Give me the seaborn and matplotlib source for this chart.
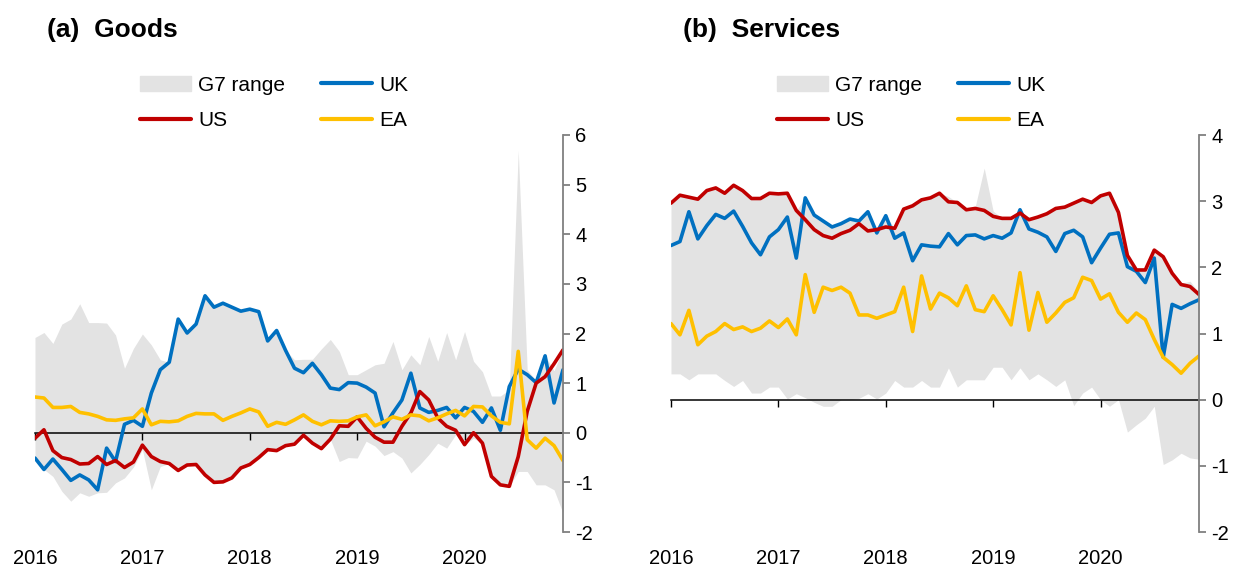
import matplotlib
matplotlib.use('Agg')
import matplotlib.pyplot as plt
import matplotlib.patches as mpatches
import matplotlib.lines as mlines
import numpy as np
import pandas as pd
import seaborn as sns

# monthly, Jan 2016 - Dec 2020
months = np.arange(60)
year_ticks = [0, 12, 24, 36, 48]
year_labels = ['2016', '2017', '2018', '2019', '2020']

# (a) goods
goods_uk = [-0.51, -0.74, -0.53, -0.74, -0.96, -0.85, -0.95, -1.15, -0.31, -0.58,
            0.17, 0.25, 0.13, 0.80, 1.27, 1.42, 2.29, 2.01, 2.19, 2.76,
            2.53, 2.61, 2.53, 2.45, 2.49, 2.44, 1.85, 2.06, 1.66, 1.30,
            1.21, 1.40, 1.17, 0.90, 0.87, 1.01, 1.00, 0.92, 0.80, 0.12,
            0.40, 0.66, 1.20, 0.50, 0.41, 0.45, 0.51, 0.30, 0.51, 0.43,
            0.21, 0.50, 0.05, 0.93, 1.28, 1.17, 1.01, 1.55, 0.60, 1.27]
goods_us = [-0.11, 0.06, -0.36, -0.50, -0.54, -0.63, -0.62, -0.48, -0.64, -0.56,
            -0.70, -0.59, -0.25, -0.48, -0.58, -0.62, -0.76, -0.65, -0.64, -0.85,
            -1.00, -0.99, -0.91, -0.71, -0.64, -0.50, -0.34, -0.36, -0.26, -0.23,
            -0.05, -0.21, -0.32, -0.13, 0.14, 0.13, 0.32, 0.09, -0.09, -0.19,
            -0.19, 0.13, 0.40, 0.83, 0.66, 0.30, 0.13, 0.05, -0.24, 0.00,
            -0.21, -0.88, -1.05, -1.08, -0.48, 0.43, 1.00, 1.13, 1.39, 1.67]
goods_ea = [0.72, 0.70, 0.51, 0.51, 0.53, 0.41, 0.38, 0.33, 0.26, 0.25,
            0.28, 0.30, 0.48, 0.16, 0.23, 0.22, 0.24, 0.33, 0.39, 0.38,
            0.38, 0.25, 0.33, 0.40, 0.48, 0.42, 0.13, 0.21, 0.17, 0.26,
            0.36, 0.23, 0.16, 0.24, 0.23, 0.24, 0.32, 0.36, 0.14, 0.22,
            0.32, 0.27, 0.36, 0.34, 0.24, 0.30, 0.38, 0.45, 0.34, 0.53,
            0.52, 0.34, 0.21, 0.18, 1.64, -0.14, -0.31, -0.11, -0.26, -0.56]
goods_hi = [1.92, 2.02, 1.80, 2.19, 2.29, 2.60, 2.22, 2.22, 2.21, 1.97,
            1.30, 1.70, 1.99, 1.77, 1.47, 1.42, 2.29, 2.01, 2.19, 2.76,
            2.53, 2.61, 2.53, 2.45, 2.49, 2.44, 1.85, 2.06, 1.66, 1.47,
            1.48, 1.48, 1.69, 1.88, 1.64, 1.17, 1.17, 1.27, 1.37, 1.40,
            1.84, 1.27, 1.57, 1.37, 1.94, 1.44, 2.02, 1.47, 2.04, 1.44,
            1.23, 0.74, 0.74, 0.87, 5.69, 1.27, 1.05, 1.55, 1.25, 1.68]
goods_lo = [-0.51, -0.74, -0.88, -1.18, -1.38, -1.21, -1.28, -1.21, -1.20, -1.01,
            -0.91, -0.69, -0.34, -1.15, -0.68, -0.62, -0.76, -0.65, -0.64, -0.85,
            -1.00, -0.99, -0.91, -0.71, -0.64, -0.50, -0.34, -0.36, -0.26, -0.23,
            -0.05, -0.21, -0.32, -0.13, -0.58, -0.50, -0.51, -0.17, -0.27, -0.46,
            -0.38, -0.51, -0.81, -0.64, -0.44, -0.21, -0.31, -0.04, -0.24, -0.11,
            -0.21, -0.88, -1.05, -1.08, -0.78, -0.78, -1.05, -1.05, -1.15, -1.62]

# (b) services
svc_uk = [2.33, 2.39, 2.84, 2.43, 2.63, 2.80, 2.74, 2.85, 2.62, 2.37,
          2.19, 2.46, 2.57, 2.76, 2.14, 3.05, 2.79, 2.70, 2.61, 2.66,
          2.73, 2.70, 2.84, 2.52, 2.78, 2.44, 2.52, 2.10, 2.34, 2.32,
          2.31, 2.51, 2.34, 2.48, 2.49, 2.43, 2.48, 2.44, 2.52, 2.87,
          2.58, 2.53, 2.46, 2.24, 2.51, 2.56, 2.46, 2.07, 2.29, 2.50,
          2.52, 2.01, 1.94, 1.77, 2.14, 0.64, 1.44, 1.38, 1.45, 1.51]
svc_us = [2.97, 3.09, 3.06, 3.03, 3.16, 3.20, 3.12, 3.24, 3.16, 3.04,
          3.04, 3.12, 3.11, 3.12, 2.86, 2.72, 2.57, 2.48, 2.44, 2.51,
          2.56, 2.66, 2.55, 2.57, 2.61, 2.59, 2.88, 2.93, 3.02, 3.05,
          3.12, 2.99, 2.98, 2.87, 2.89, 2.86, 2.77, 2.74, 2.74, 2.82,
          2.72, 2.76, 2.81, 2.89, 2.91, 2.97, 3.03, 2.98, 3.08, 3.12,
          2.83, 2.18, 1.96, 1.96, 2.26, 2.16, 1.91, 1.74, 1.71, 1.59]
svc_ea = [1.15, 0.98, 1.35, 0.83, 0.96, 1.03, 1.15, 1.06, 1.10, 1.03,
          1.08, 1.19, 1.09, 1.22, 0.98, 1.89, 1.32, 1.70, 1.65, 1.70,
          1.61, 1.28, 1.28, 1.23, 1.28, 1.33, 1.70, 1.03, 1.87, 1.37,
          1.61, 1.54, 1.42, 1.72, 1.36, 1.33, 1.57, 1.36, 1.13, 1.92,
          1.05, 1.62, 1.17, 1.31, 1.47, 1.54, 1.85, 1.80, 1.52, 1.60,
          1.32, 1.17, 1.31, 1.21, 0.91, 0.64, 0.53, 0.40, 0.55, 0.66]
svc_hi = [2.97, 3.09, 3.06, 3.03, 3.16, 3.20, 3.12, 3.24, 3.16, 3.04,
          3.04, 3.12, 3.11, 3.12, 2.86, 3.05, 2.79, 2.70, 2.61, 2.66,
          2.73, 2.70, 2.84, 2.57, 2.78, 2.59, 2.88, 2.93, 3.02, 3.05,
          3.12, 3.07, 2.98, 2.87, 2.92, 3.50, 2.85, 2.74, 2.74, 2.87,
          2.72, 2.76, 2.81, 2.89, 2.91, 2.97, 3.03, 2.98, 3.08, 3.12,
          2.83, 2.18, 1.96, 1.96, 2.26, 2.16, 1.91, 1.76, 1.79, 1.62]
svc_lo = [0.39, 0.39, 0.30, 0.39, 0.39, 0.39, 0.29, 0.20, 0.29, 0.10,
          0.10, 0.19, 0.19, 0.01, 0.09, 0.03, -0.04, -0.10, -0.10, 0.00,
          0.00, 0.02, 0.09, 0.01, 0.10, 0.29, 0.19, 0.19, 0.29, 0.19,
          0.19, 0.48, 0.19, 0.30, 0.30, 0.30, 0.49, 0.49, 0.30, 0.48,
          0.30, 0.39, 0.30, 0.20, 0.30, -0.09, 0.10, 0.19, 0.00, -0.10,
          0.00, -0.49, -0.38, -0.28, -0.10, -0.98, -0.91, -0.81, -0.88, -0.90]

colors = {'UK': '#0070C0', 'US': '#C00000', 'EA': '#FFC000'}
range_color = '#E3E3E3'

sns.set_style('white')
plt.rcParams['font.family'] = ['Liberation Sans', 'DejaVu Sans']
plt.rcParams['axes.unicode_minus'] = False
plt.rcParams['text.color'] = 'black'
plt.rcParams['xtick.color'] = 'black'
plt.rcParams['ytick.color'] = 'black'


def draw_panel(ax, uk, us, ea, hi, lo, ylim, yticks):
    ax.fill_between(months, lo, hi, color=range_color, lw=0, zorder=0.5)
    df = pd.DataFrame({'month': months, 'UK': uk, 'US': us, 'EA': ea})
    long = df.melt(id_vars='month', var_name='series', value_name='value')
    sns.lineplot(data=long, x='month', y='value', hue='series',
                 hue_order=['UK', 'US', 'EA'], palette=colors,
                 linewidth=2.6, legend=False, ax=ax)
    ax.set_xlim(0, 59)
    ax.set_ylim(*ylim)
    ax.set_xlabel('')
    ax.set_ylabel('')
    for s in ['left', 'top', 'bottom']:
        ax.spines[s].set_visible(False)
    ax.spines['right'].set_visible(True)
    ax.spines['right'].set_color('#808080')
    ax.spines['right'].set_linewidth(1.3)
    ax.yaxis.tick_right()
    ax.set_yticks(yticks)
    ax.tick_params(axis='y', direction='out', length=5, width=1.3,
                   color='#808080', labelcolor='black', labelsize=14.5, pad=4)
    ax.set_xticks(year_ticks)
    ax.set_xticklabels(year_labels)
    ax.tick_params(axis='x', length=0, labelcolor='black', labelsize=14.5, pad=12)
    # zero line with year ticks
    zero_frac = (0 - ylim[0]) / (ylim[1] - ylim[0])
    sec = ax.secondary_xaxis(zero_frac)
    sec.set_xticks(year_ticks)
    sec.tick_params(direction='out', length=5, width=1, color='black',
                    labelbottom=False, labeltop=False)
    sec.spines['bottom'].set_color('black')
    sec.spines['bottom'].set_linewidth(1.1)
    sec.set_zorder(1.5)


fig = plt.figure(figsize=(12.37, 5.68), dpi=100)
ax1 = fig.add_axes([35 / 1237, 36 / 568, 528 / 1237, 397 / 568])
ax2 = fig.add_axes([671 / 1237, 36 / 568, 528 / 1237, 397 / 568])

draw_panel(ax1, goods_uk, goods_us, goods_ea, goods_hi, goods_lo, (-2, 6), range(-2, 7))
draw_panel(ax2, svc_uk, svc_us, svc_ea, svc_hi, svc_lo, (-2, 4), range(-2, 5))

fig.text(47 / 1237, 1 - 29.5 / 568, '(a)  Goods', fontsize=19, fontweight='bold',
         ha='left', va='center', color='black')
fig.text(683 / 1237, 1 - 29.5 / 568, '(b)  Services', fontsize=19, fontweight='bold',
         ha='left', va='center', color='black')

handles = [mpatches.Patch(color=range_color, label='G7 range'),
           mlines.Line2D([], [], color=colors['US'], lw=3, label='US'),
           mlines.Line2D([], [], color=colors['UK'], lw=3, label='UK'),
           mlines.Line2D([], [], color=colors['EA'], lw=3, label='EA')]
for x0 in [140 / 1237, 777 / 1237]:
    fig.legend(handles=handles, loc='center left', bbox_to_anchor=(x0, 1 - 103 / 568),
               ncol=2, frameon=False, fontsize=15, handlelength=2.45,
               handletextpad=0.35, columnspacing=1.7, labelspacing=0.8,
               borderpad=0, borderaxespad=0)

fig.savefig('out.png', dpi=100)
